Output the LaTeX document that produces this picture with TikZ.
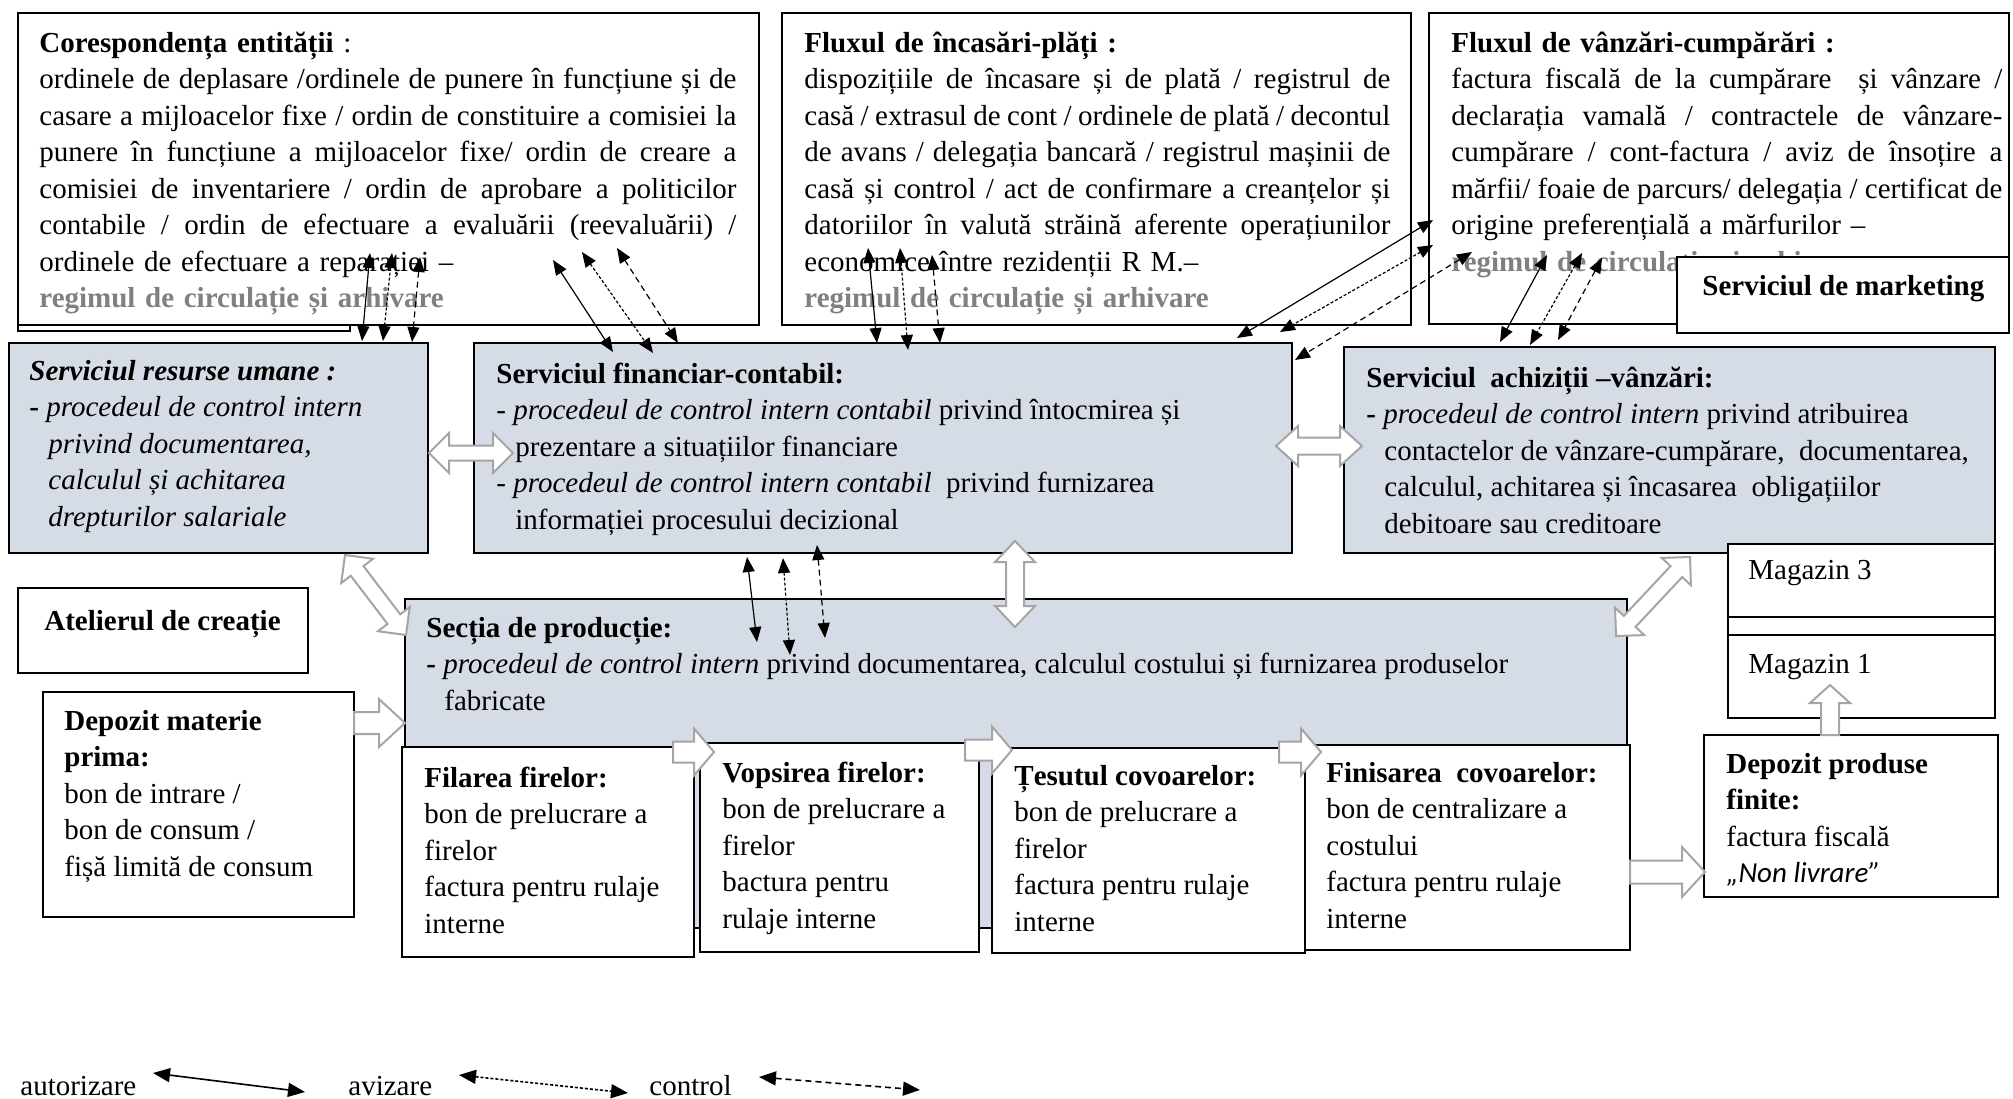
\documentclass[tikz,border=0pt]{standalone}
\usepackage{fontspec}
\setmainfont{Liberation Serif}
\newfontfamily\calibrifont{Carlito}
\usepackage{tikz}
\usetikzlibrary{calc,arrows.meta,positioning,fit}
\setlength{\parindent}{0pt}

\definecolor{boxfill}{RGB}{214,220,229}
\definecolor{flowgray}{RGB}{165,165,165}
\definecolor{regimgray}{RGB}{128,128,128}

\tikzset{
  box/.style={draw,line width=1.1pt,inner sep=0pt},
  whitebox/.style={box,fill=white},
  graybox/.style={box,fill=boxfill},
  txt/.style={anchor=north west,inner sep=0pt,align=left},
  jtxt/.style={txt,text width=#1},
  flow/.style={draw=flowgray,line width=1pt,fill=white,line join=miter},
  aut/.style={{Triangle[length=7.5pt,width=6pt]}-{Triangle[length=7.5pt,width=6pt]},line width=0.6pt},
  aviz/.style={aut,dash pattern=on 1.5pt off 1pt},
  ctrl/.style={aut,dash pattern=on 3pt off 2pt},
  legaut/.style={aut,line width=0.8pt,{Triangle[length=8.5pt,width=7pt]}-{Triangle[length=8.5pt,width=7pt]}},
  legaviz/.style={legaut,dash pattern=on 1.5pt off 1pt},
  legctrl/.style={legaut,dash pattern=on 3pt off 2pt}
}

% justified line, regim text
\newcommand{\jl}[1]{\makebox[\hsize][s]{\spaceskip=0.25em plus 1em minus 0.13em\relax #1}\\}
\newcommand{\regim}{\textcolor{regimgray}{\bfseries regimul de circulație și arhivare}}

% block arrows: from, to, half shaft, half head, head length
\newcommand{\dblarrow}[5]{%
  \coordinate (h1) at ($(#1)!#5!(#2)$);
  \coordinate (h2) at ($(#2)!#5!(#1)$);
  \draw[flow] (#1) -- ($(h1)!#4!90:(#2)$) -- ($(h1)!#3!90:(#2)$)
    -- ($(h2)!#3!-90:(#1)$) -- ($(h2)!#4!-90:(#1)$) -- (#2)
    -- ($(h2)!#4!90:(#1)$) -- ($(h2)!#3!90:(#1)$)
    -- ($(h1)!#3!-90:(#2)$) -- ($(h1)!#4!-90:(#2)$) -- cycle;}
\newcommand{\sglarrow}[5]{%
  \coordinate (h1) at ($(#2)!#5!(#1)$);
  \draw[flow] ($(#1)!#3!-90:(#2)$) -- ($(h1)!#3!90:(#1)$) -- ($(h1)!#4!90:(#1)$)
    -- (#2) -- ($(h1)!#4!-90:(#1)$) -- ($(h1)!#3!-90:(#1)$)
    -- ($(#1)!#3!90:(#2)$) -- cycle;}

\begin{document}
\begin{tikzpicture}[x=0.5pt,y=-0.5pt,
  every node/.style={font=\fontsize{14.5}{18.25}\selectfont}]
  \useasboundingbox (0,0) rectangle (2013,1098);

  % top row of documents
  \node[whitebox,fit={(18,250) (350,331)}] (corback) {};
  \node[whitebox,fit={(18,13) (759,325)}] (cor) {};
  \node[jtxt=348.5pt] (cortext) at (39,26.5) {\strut\textbf{Corespondența entității} :\\
    \jl{ordinele de deplasare /ordinele de punere în funcțiune și de}
    \jl{casare a mijloacelor fixe / ordin de constituire a comisiei la}
    \jl{punere în funcțiune a mijloacelor fixe/ ordin de creare a}
    \jl{comisiei de inventariere / ordin de aprobare a politicilor}
    \jl{contabile / ordin de efectuare a evaluării (reevaluării) /}
    ordinele de efectuare a reparației –\\
    \regim};

  \node[whitebox,fit={(782,13) (1411,325)}] (inc) {};
  \node[jtxt=293pt] (inctext) at (804,26.5) {\strut\textbf{Fluxul de încasări-plăți :}\\
    \jl{dispozițiile de încasare și de plată / registrul de}
    \jl{casă / extrasul de cont / ordinele de plată / decontul}
    \jl{de avans / delegația bancară / registrul mașinii de}
    \jl{casă și control / act de confirmare a creanțelor și}
    \jl{datoriilor în valută străină aferente operațiunilor}
    economice între rezidenții R M.–\\
    \regim};

  \node[whitebox,fit={(1429,13) (2009,324)}] (vz) {};
  \node[jtxt=275.5pt] (vztext) at (1451,26.5) {\strut\textbf{Fluxul de vânzări-cumpărări :}\\
    \jl{factura fiscală de la cumpărare\ \ și vânzare /}
    \jl{declarația vamală / contractele de vânzare-}
    \jl{cumpărare / cont-factura / aviz de însoțire a}
    \jl{mărfii/ foaie de parcurs/ delegația / certificat de}
    origine preferențială a mărfurilor –\\
    \regim};

  \node[whitebox,fit={(1677,257) (2009,333)}] (mkt) {};
  \node[txt] (mkttext) at (1702,269.5) {\strut\textbf{Serviciul de marketing}};

  % services
  \node[graybox,fit={(9,343) (428,553)}] (ru) {};
  \node[txt] (rutext) at (29,354.5) {\strut\textbf{\textit{Serviciul resurse umane :}}\\
    \textbf{-} \textit{procedeul de control intern}\\
    \hspace*{9.5pt}\textit{privind documentarea,}\\
    \hspace*{9.5pt}\textit{calculul și achitarea}\\
    \hspace*{9.5pt}\textit{drepturilor salariale}};

  \node[graybox,fit={(474,343) (1292,553)}] (fin) {};
  \node[txt] (fintext) at (496,357.5) {\strut\textbf{Serviciul financiar-contabil:}\\
    - \textit{procedeul de control intern contabil} privind întocmirea și\\
    \hspace*{9.5pt}prezentare a situațiilor financiare\\
    - \textit{procedeul de control intern contabil}\ \ privind furnizarea\\
    \hspace*{9.5pt}informației procesului decizional};

  \node[graybox,fit={(1344,347) (1995,553)}] (ach) {};
  \node[txt] (achtext) at (1366,361.5) {\strut\textbf{Serviciul\ \ achiziții –vânzări:}\\
    \textbf{-} \textit{procedeul de control intern} privind atribuirea\\
    \hspace*{9pt}contactelor de vânzare-cumpărare,\ \ documentarea,\\
    \hspace*{9pt}calculul, achitarea și încasarea\ \ obligațiilor\\
    \hspace*{9pt}debitoare sau creditoare};

  % production
  \node[graybox,fit={(405,599) (1627,928)}] (sec) {};
  \node[txt] (sectext) at (426,611.5) {\strut\textbf{Secția de producție:}\\
    \textbf{-} \textit{procedeul de control intern} privind documentarea, calculul costului și furnizarea produselor\\
    \hspace*{9pt}fabricate};

  \node[whitebox,fit={(402,747) (694,957)}] (fil) {};
  \node[txt] (filtext) at (424,761.5) {\strut\textbf{Filarea firelor:}\\
    bon de prelucrare a\\ firelor\\ factura pentru rulaje\\ interne};
  \node[whitebox,fit={(700,743) (979,952)}] (vop) {};
  \node[txt] (voptext) at (722,756.5) {\strut\textbf{Vopsirea firelor:}\\
    bon de prelucrare a\\ firelor\\ bactura pentru\\ rulaje interne};
  \node[whitebox,fit={(992,748) (1305,953)}] (tes) {};
  \node[txt] (testext) at (1014,759.5) {\strut\textbf{Țesutul covoarelor:}\\
    bon de prelucrare a\\ firelor\\ factura pentru rulaje\\ interne};
  \node[whitebox,fit={(1305,745) (1630,950)}] (fns) {};
  \node[txt] (fnstext) at (1326,756.5) {\strut\textbf{Finisarea\ \ covoarelor:}\\
    bon de centralizare a\\ costului\\ factura pentru rulaje\\ interne};

  \node[whitebox,fit={(18,588) (308,673)}] (atl) {};
  \node[txt] (atltext) at (44,604.5) {\strut\textbf{Atelierul de creație}};
  \node[whitebox,fit={(43,692) (354,917)}] (dmp) {};
  \node[txt] (dmptext) at (64,704.5) {\strut\textbf{Depozit materie}\\ \textbf{prima:}\\
    bon de intrare /\\ bon de consum /\\ fișă limită de consum};

  % shops
  \node[whitebox,fit={(1728,544) (1995,617)}] (mag3) {};
  \node[txt] (mag3text) at (1748,553.5) {\strut Magazin 3};
  \node[whitebox,fit={(1728,617) (1995,635)}] (mag2) {};
  \node[whitebox,fit={(1728,635) (1995,718)}] (mag1) {};
  \node[txt] (mag1text) at (1748,647.5) {\strut Magazin 1};
  \node[whitebox,fit={(1704,735) (1998,897)}] (dpf) {};
  \node[txt] (dpftext) at (1726,747.5) {\strut\textbf{Depozit produse}\\ \textbf{finite:}\\
    factura fiscală\\ {\calibrifont\itshape „Non livrare”}};

  % block arrows
  \coordinate (ruA) at (429,453);   \coordinate (finA) at (513,453);
  \coordinate (finB) at (1276,446); \coordinate (achB) at (1362,446);
  \coordinate (finC) at (1015,541); \coordinate (secC) at (1015,627);
  \coordinate (ruD) at (345,555);   \coordinate (secD) at (406,635);
  \coordinate (achE) at (1690,557); \coordinate (secE) at (1616,636);
  \coordinate (dmpF) at (354,723);  \coordinate (secF) at (405,723);
  \coordinate (filG) at (673,752);  \coordinate (vopG) at (714,752);
  \coordinate (vopH) at (965,750);  \coordinate (tesH) at (1012,750);
  \coordinate (tesI) at (1279,752); \coordinate (fnsI) at (1321,752);
  \coordinate (fnsJ) at (1630,872); \coordinate (dpfJ) at (1705,872);
  \coordinate (dpfK) at (1830,735); \coordinate (magK) at (1830,685);
  \dblarrow{ruA}{finA}{3.75pt}{10pt}{10pt}
  \dblarrow{finB}{achB}{4.25pt}{10pt}{11pt}
  \dblarrow{finC}{secC}{4.5pt}{10pt}{10.5pt}
  \dblarrow{ruD}{secD}{4pt}{10pt}{10pt}
  \dblarrow{achE}{secE}{4pt}{10pt}{10pt}
  \sglarrow{dmpF}{secF}{5.5pt}{12pt}{13pt}
  \sglarrow{filG}{vopG}{5.25pt}{11.75pt}{10pt}
  \sglarrow{vopH}{tesH}{5.25pt}{11.75pt}{10pt}
  \sglarrow{tesI}{fnsI}{5.25pt}{11.75pt}{10pt}
  \sglarrow{fnsJ}{dpfJ}{5.75pt}{12.5pt}{11.5pt}
  \sglarrow{dpfK}{magK}{4.5pt}{10pt}{9pt}

  % authorisation / approval / control links
  \coordinate (cor1) at (370,253); \coordinate (ru1) at (362,341);
  \coordinate (cor2) at (392,253); \coordinate (ru2) at (383,341);
  \coordinate (cor3) at (420,257); \coordinate (ru3) at (412,342);
  \coordinate (cor4) at (553,260); \coordinate (fin4) at (613,352);
  \coordinate (cor5) at (582,252); \coordinate (fin5) at (653,353);
  \coordinate (cor6) at (617,248); \coordinate (fin6) at (678,343);
  \coordinate (inc1) at (868,248); \coordinate (fin7) at (877,343);
  \coordinate (inc2) at (900,248); \coordinate (fin8) at (908,350);
  \coordinate (inc3) at (932,255); \coordinate (fin9) at (940,343);
  \coordinate (vz1) at (1433,220); \coordinate (fin10) at (1237,338);
  \coordinate (vz2) at (1433,245); \coordinate (fin11) at (1280,332);
  \coordinate (vz3) at (1472,252); \coordinate (fin12) at (1295,360);
  \coordinate (vz4) at (1547,255); \coordinate (ach1) at (1500,342);
  \coordinate (vz5) at (1582,253); \coordinate (ach2) at (1530,345);
  \coordinate (vz6) at (1602,258); \coordinate (ach3) at (1558,340);
  \coordinate (fin13) at (747,557); \coordinate (sec1) at (757,642);
  \coordinate (fin14) at (783,558); \coordinate (sec2) at (790,655);
  \coordinate (fin15) at (817,545); \coordinate (sec3) at (825,638);
  \draw[aut] (cor1) -- (ru1);   \draw[aviz] (cor2) -- (ru2);   \draw[ctrl] (cor3) -- (ru3);
  \draw[aut] (cor4) -- (fin4);  \draw[aviz] (cor5) -- (fin5);  \draw[ctrl] (cor6) -- (fin6);
  \draw[aut] (inc1) -- (fin7);  \draw[aviz] (inc2) -- (fin8);  \draw[ctrl] (inc3) -- (fin9);
  \draw[aut] (vz1) -- (fin10);  \draw[aviz] (vz2) -- (fin11);  \draw[ctrl] (vz3) -- (fin12);
  \draw[aut] (vz4) -- (ach1);   \draw[aviz] (vz5) -- (ach2);   \draw[ctrl] (vz6) -- (ach3);
  \draw[aut] (fin13) -- (sec1); \draw[aviz] (fin14) -- (sec2); \draw[ctrl] (fin15) -- (sec3);

  % legend
  \node[txt,anchor=base west] (lgaut) at (20,1095) {autorizare};
  \node[txt,anchor=base west] (lgaviz) at (348,1095) {avizare};
  \node[txt,anchor=base west] (lgctrl) at (649,1095) {control};
  \coordinate (la1) at (153,1073); \coordinate (la2) at (305,1092);
  \coordinate (lb1) at (459,1075); \coordinate (lb2) at (628,1093);
  \coordinate (lc1) at (759,1077); \coordinate (lc2) at (920,1090);
  \draw[legaut] (la1) -- (la2);
  \draw[legaviz] (lb1) -- (lb2);
  \draw[legctrl] (lc1) -- (lc2);
\end{tikzpicture}
\end{document}
